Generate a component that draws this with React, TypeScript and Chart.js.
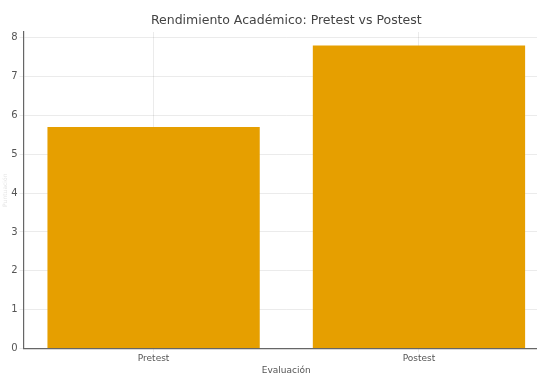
import React, { useEffect, useRef } from "react";
import { Chart, registerables } from "chart.js";

Chart.register(...registerables);

const categories = ["Pretest", "Postest"];
const scores = [5.7, 7.8];
const yTicks = [0, 1, 2, 3, 4, 5, 6, 7, 8];

export default function App() {
  const ref = useRef<HTMLCanvasElement | null>(null);
  useEffect(() => {
    if (!ref.current) return;
    const chart = new Chart(ref.current, {
      type: "bar",
      data: {
        datasets: [
          {
            data: scores.map((v, i) => ({ x: i, y: v })),
            backgroundColor: "#E69F00",
            borderWidth: 0,
            categoryPercentage: 1,
            barPercentage: 0.8,
          },
        ],
      },
      options: {
        animation: false,
        responsive: false,
        maintainAspectRatio: false,
        layout: { padding: { top: 6, left: 2, right: 0, bottom: 0 } },
        plugins: {
          legend: { display: false },
          tooltip: { enabled: false },
          title: {
            display: true,
            fullSize: false,
            text: "Rendimiento Académico: Pretest vs Postest",
            color: "#444",
            font: { family: "DejaVu Sans", size: 12.5, weight: "normal" },
            padding: { top: 7, bottom: 4 },
          },
        },
        scales: {
          x: {
            type: "linear",
            offset: false,
            min: -0.49,
            max: 1.49,
            z: 1,
            afterBuildTicks: (s: any) => {
              s.ticks = categories.map((_, i) => ({ value: i }));
            },
            grid: {
              offset: false,
              color: "rgba(0,0,0,0.08)",
              tickLength: 4,
            },
            border: { color: "#666", width: 1.2 },
            ticks: {
              color: "#555",
              font: { family: "DejaVu Sans", size: 9 },
              padding: 1,
              callback: (v: any) => categories[Math.round(Number(v))] ?? "",
            },
            title: {
              display: true,
              text: "Evaluación",
              color: "#555",
              font: { family: "DejaVu Sans", size: 9 },
              padding: { top: 0, bottom: 0 },
            },
          },
          y: {
            min: 0,
            max: 8.15,
            z: 1,
            afterBuildTicks: (s: any) => {
              s.ticks = yTicks.map((v) => ({ value: v }));
            },
            grid: { color: "rgba(0,0,0,0.08)", tickLength: 4 },
            border: { color: "#666", width: 1.2 },
            ticks: {
              color: "#555",
              font: { family: "DejaVu Sans", size: 10 },
              padding: 2,
            },
            title: {
              display: true,
              text: "Puntuación",
              color: "rgba(0,0,0,0.12)",
              font: { family: "DejaVu Sans", size: 6 },
              padding: { top: 0, bottom: 0 },
            },
          },
        },
      },
    });
    return () => chart.destroy();
  }, []);
  return (
    <div
      style={{
        position: "fixed",
        left: 0,
        top: 0,
        width: 537,
        height: 374,
        overflow: "hidden",
        background: "#fff",
      }}
    >
      <canvas ref={ref} width={549} height={376} style={{ display: "block" }} />
    </div>
  );
}
